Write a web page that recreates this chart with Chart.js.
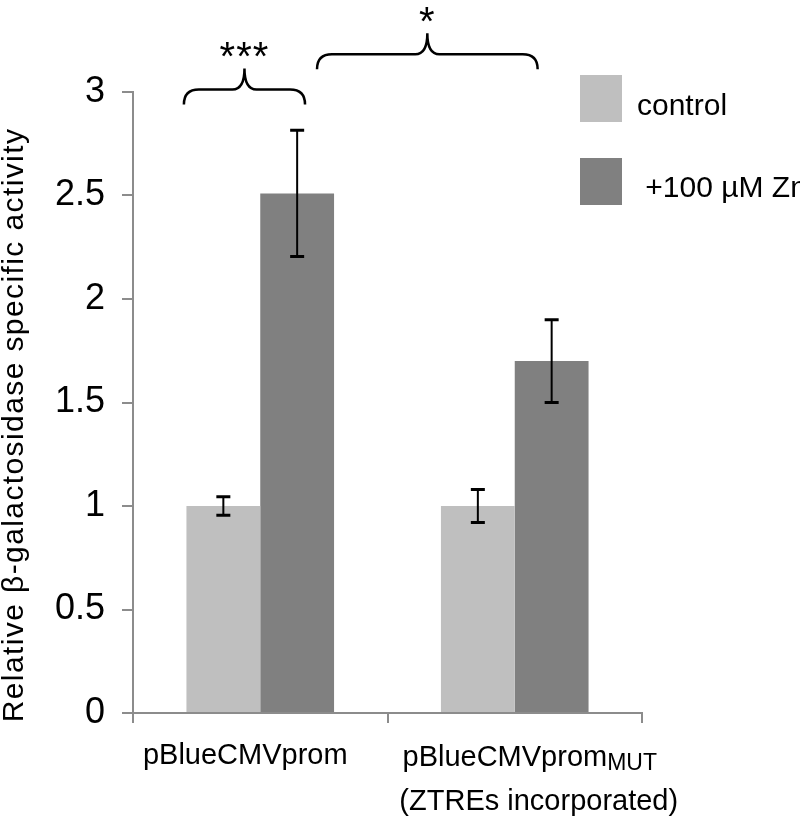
<!DOCTYPE html>
<html>
<head>
<meta charset="utf-8">
<script src="https://cdn.jsdelivr.net/npm/chart.js@4.4.1/dist/chart.umd.min.js"></script>
<style>
  html, body { margin: 0; background: #fff; }
  #wrap { position: relative; width: 800px; height: 818px; }
</style>
</head>
<body>
<div id="wrap"><canvas id="chart"></canvas></div>
<script>
// "_" marks the start of a subscript
const categories = [["pBlueCMVprom"], ["pBlueCMVprom_MUT", "(ZTREs incorporated)"]];
const seriesNames = ["control", " +100 µM Zn"];
const controlValues = [1.0, 1.0];
const controlErrors = [0.045, 0.08];
const zincValues = [2.51, 1.70];
const zincErrors = [0.305, 0.2];
const yTicks = [0, 0.5, 1, 1.5, 2, 2.5, 3];
const yTitle = "Relative β-galactosidase specific activity";
const brackets = [
  { from: -0.30, to: 0.176, value: 2.94, label: "***" },
  { from: 0.223, to: 1.09, value: 3.11, label: "*" }
];

const FONT = '"Liberation Sans", Arial, sans-serif';
const AXIS = "#8c8c8c";

function drawBrace(ctx, x1, x2, yEnd, rise, tip) {
  const ym = yEnd - rise, yt = ym - tip, xm = (x1 + x2) / 2;
  ctx.beginPath();
  ctx.moveTo(x1, yEnd);
  ctx.quadraticCurveTo(x1, ym, x1 + rise, ym);
  ctx.lineTo(xm - 12, ym);
  ctx.quadraticCurveTo(xm, ym, xm, yt);
  ctx.quadraticCurveTo(xm, ym, xm + 12, ym);
  ctx.lineTo(x2 - rise, ym);
  ctx.quadraticCurveTo(x2, ym, x2, yEnd);
  ctx.stroke();
}

function drawRich(ctx, text, cx, y, size) {
  const [main, sub] = text.split("_");
  const subSize = Math.round(size * 0.78);
  ctx.font = size + "px " + FONT;
  const wMain = ctx.measureText(main).width;
  let wSub = 0;
  if (sub) {
    ctx.font = subSize + "px " + FONT;
    wSub = ctx.measureText(sub).width;
  }
  const x = cx - (wMain + wSub) / 2;
  ctx.textAlign = "left";
  ctx.font = size + "px " + FONT;
  ctx.fillText(main, x, y);
  if (sub) {
    ctx.font = subSize + "px " + FONT;
    ctx.fillText(sub, x + wMain, y + 4);
  }
}

const decorations = {
  id: "decorations",
  afterDatasetsDraw(chart) {
    const ctx = chart.ctx;
    const y = chart.scales.y;
    ctx.save();
    ctx.strokeStyle = "#000";
    chart.data.datasets.forEach((ds, i) => {
      chart.getDatasetMeta(i).data.forEach((bar, j) => {
        const top = y.getPixelForValue(ds.data[j] + ds.errors[j]);
        const bot = y.getPixelForValue(ds.data[j] - ds.errors[j]);
        ctx.lineWidth = 2;
        ctx.beginPath();
        ctx.moveTo(bar.x, top);
        ctx.lineTo(bar.x, bot);
        ctx.stroke();
        ctx.lineWidth = 3;
        ctx.beginPath();
        ctx.moveTo(bar.x - 7, top);
        ctx.lineTo(bar.x + 7, top);
        ctx.moveTo(bar.x - 7, bot);
        ctx.lineTo(bar.x + 7, bot);
        ctx.stroke();
      });
    });
    ctx.restore();
  },
  afterDraw(chart) {
    const ctx = chart.ctx;
    const x = chart.scales.x, y = chart.scales.y;
    ctx.save();
    ctx.fillStyle = "#000";
    ctx.textBaseline = "alphabetic";

    // y axis title
    ctx.save();
    ctx.translate(23, 425);
    ctx.rotate(-Math.PI / 2);
    ctx.font = "30px " + FONT;
    ctx.letterSpacing = "1.4px";
    ctx.textAlign = "center";
    ctx.fillText(yTitle, 0, 0);
    ctx.restore();

    // category labels
    const shifts = [[-15], [15, 24]];
    categories.forEach((lines, i) => {
      const cx = x.getPixelForValue(i);
      lines.forEach((line, k) => {
        drawRich(ctx, line, cx + shifts[i][k], x.bottom - 105 + 51 + i * 2 + k * 44, 29);
      });
    });

    // significance brackets
    ctx.strokeStyle = "#000";
    ctx.lineWidth = 2.5;
    brackets.forEach(b => {
      const x1 = x.getPixelForValue(b.from), x2 = x.getPixelForValue(b.to);
      const yEnd = y.getPixelForValue(b.value);
      drawBrace(ctx, x1, x2, yEnd, 15, 21);
      ctx.font = "40px " + FONT;
      ctx.letterSpacing = "1px";
      ctx.textAlign = "center";
      ctx.fillText(b.label, (x1 + x2) / 2, yEnd - 34);
      ctx.letterSpacing = "0px";
    });

    // legend
    chart.data.datasets.forEach((ds, i) => {
      ctx.fillStyle = ds.backgroundColor;
      ctx.fillRect(580, 75 + i * 83, 42, 47);
      ctx.fillStyle = "#000";
      ctx.font = "30px " + FONT;
      ctx.textAlign = "left";
      ctx.fillText(ds.label, 637, 115 + i * 82);
    });
    ctx.restore();
  }
};

new Chart(document.getElementById("chart"), {
  type: "bar",
  data: {
    labels: categories.map(c => c.join(" ")),
    datasets: [
      { label: seriesNames[0], data: controlValues, errors: controlErrors, backgroundColor: "#bfbfbf" },
      { label: seriesNames[1], data: zincValues, errors: zincErrors, backgroundColor: "#808080" }
    ]
  },
  options: {
    animation: false,
    responsive: true,
    maintainAspectRatio: false,
    layout: { padding: { top: 92, right: 158, left: 0, bottom: 0 } },
    datasets: { bar: { categoryPercentage: 0.58, barPercentage: 1, borderWidth: 0 } },
    plugins: { legend: { display: false }, tooltip: { enabled: false } },
    scales: {
      x: {
        grid: { offset: true, drawOnChartArea: false, tickLength: 10, color: AXIS, lineWidth: 2 },
        border: { color: AXIS, width: 2 },
        ticks: { display: false },
        afterFit: s => { s.height = 105; }
      },
      y: {
        min: 0,
        max: 3,
        afterBuildTicks: s => { s.ticks = yTicks.map(v => ({ value: v })); },
        grid: { drawOnChartArea: false, tickLength: 11, color: AXIS, lineWidth: 2 },
        border: { color: AXIS, width: 2 },
        ticks: { padding: 17, color: "#000", font: { family: FONT, size: 36 }, callback: v => String(v) },
        afterFit: s => { s.width = 133; }
      }
    }
  },
  plugins: [decorations]
});
</script>
</body>
</html>
